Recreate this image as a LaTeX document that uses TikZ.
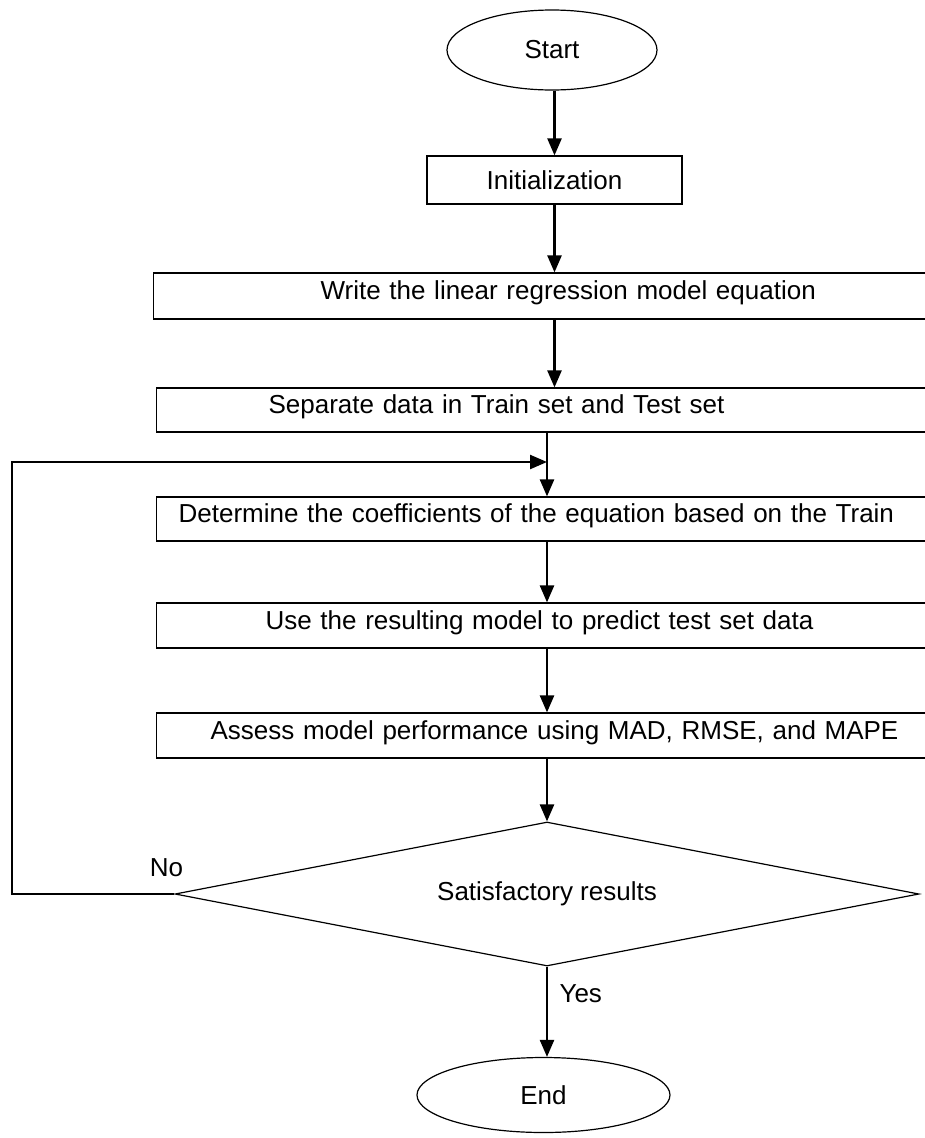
\documentclass[tikz,border=0pt]{standalone}
\usepackage{fontspec}
\setmainfont{Liberation Sans}
\usetikzlibrary{positioning, shapes.geometric, arrows.meta}

\begin{document}
\begin{tikzpicture}[x=1pt, y=-1pt, font=\fontsize{26}{30}\selectfont,
  terminal/.style={draw, ellipse, line width=1.2pt, inner sep=0pt},
  initbox/.style={draw, line width=1.2pt, inner sep=0pt},
  stepbox/.style={draw, anchor=west, line width=1.2pt, text width=800pt, align=left, inner ysep=0pt, text height=19pt, text depth=12pt},
  decision/.style={draw, diamond, shape aspect=5, line width=1.2pt, inner sep=0pt},
  flow/.style={line width=2.4pt, -{Triangle[length=17pt, width=14pt]}}]

\useasboundingbox (0,0) rectangle (925,1138);

\node[terminal, minimum width=210pt, minimum height=80pt] (start) at (552,50) {Start};
\node[initbox, minimum width=255pt, minimum height=48pt] (init) at (554.5,180) {Initialization};

\node[stepbox, minimum height=46pt, inner xsep=167pt] (write) at (153,296) {Write the linear regression model equation};
\node[stepbox, minimum height=44pt, inner xsep=112pt] (sep) at (156,410) {Separate data in Train set and Test set};
\node[stepbox, minimum height=44pt, inner xsep=22pt] (det) at (156,519) {Determine the coefficients of the equation based on the Train};
\node[stepbox, minimum height=45pt, inner xsep=109pt] (use) at (156,625.5) {Use the resulting model to predict test set data};
\node[stepbox, minimum height=45pt, inner xsep=54pt] (assess) at (156,735.5) {Assess model performance using MAD, RMSE, and MAPE};

\node[decision, minimum width=744pt, minimum height=144pt] (sat) at (547,894) {Satisfactory results};
\node[terminal, minimum width=253pt, minimum height=75pt] (end) at (543.5,1095) {End};

\node[above=14pt of sat.west, xshift=-8pt] (no) {No};
\coordinate (back) at (12,462);

% main flow
\draw[flow] (init |- start.south) -- (init);
\draw[flow] (init) -- (init |- write.north);
\draw[flow] (init |- write.south) -- (init |- sep.north);
\draw[flow] (sat.north |- sep.south) -- (sat.north |- det.north);
\draw[flow] (sat.north |- det.south) -- (sat.north |- use.north);
\draw[flow] (sat.north |- use.south) -- (sat.north |- assess.north);
\draw[flow] (sat.north |- assess.south) -- (sat.north);
\draw[flow] (sat.south) -- node[pos=0.3, right=8pt] {Yes} (sat.south |- end.north);

% loop back
\draw[flow] (sat.west) -| (back) -- (sat.north |- back);

\end{tikzpicture}
\end{document}
